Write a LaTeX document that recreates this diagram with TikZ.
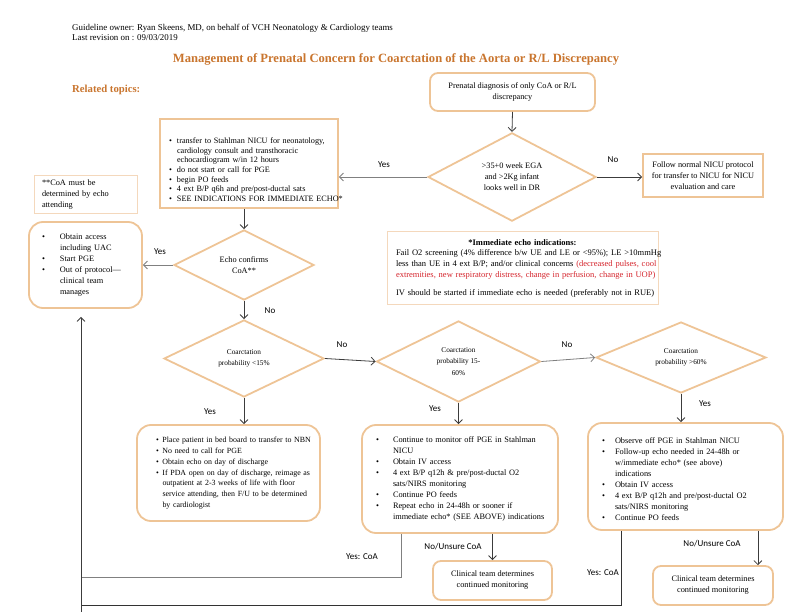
\documentclass[tikz,border=0pt]{standalone}
\usepackage{fontspec}
\setmainfont{Liberation Serif}
\newfontfamily\lblfont{Carlito}
\usetikzlibrary{arrows.meta,shapes.geometric}
\definecolor{ttl}{RGB}{201,117,46}
\definecolor{bord}{RGB}{238,196,150}
\definecolor{bordl}{RGB}{244,216,188}
\definecolor{redt}{RGB}{212,36,44}
\definecolor{arrc}{RGB}{60,60,60}
\newcommand{\bb}[1]{\makebox[#1][l]{\textbullet}}
\begin{document}
\begin{tikzpicture}[x=1pt,y=-1pt,
  txt/.style={font=\fontsize{8.3}{11}\selectfont, inner sep=0pt},
  rbox/.style={draw=bord, line width=1.8pt, rounded corners=#1, inner ysep=0pt},
  rbox/.default=12pt,
  sbox/.style={draw=bord, line width=1.8pt, inner ysep=0pt},
  lbox/.style={draw=bordl, line width=1pt, inner ysep=0pt},
  dia/.style={draw=bord, line width=1.8pt, diamond, inner sep=0pt, align=center, font=\fontsize{8.3}{11}\selectfont},
  cdia/.style={dia, font=\fontsize{7.3}{11.5}\selectfont},
  arr/.style={draw=arrc, line width=0.8pt, -{Straight Barb[length=4pt,width=8pt]}},
  ln/.style={draw=black!80, line width=0.8pt},
  lab/.style={font=\lblfont\fontsize{9}{10}\selectfont, inner sep=0pt},
]
\useasboundingbox (0,0) rectangle (792,612);

% header
\node[txt, anchor=west, font=\fontsize{8.9}{10}\selectfont] (hdr1) at (72,28) {Guideline owner: Ryan Skeens, MD, on behalf of VCH Neonatology \& Cardiology teams};
\node[txt, anchor=west, font=\fontsize{8.9}{10}\selectfont] (hdr2) at (72,38) {Last revision on : 09/03/2019};
\node[font=\bfseries\fontsize{12.6}{14}\selectfont, text=ttl, inner sep=0pt] (title) at (396,59) {Management of Prenatal Concern for Coarctation of the Aorta or R/L Discrepancy};
\node[font=\bfseries\fontsize{10.7}{12}\selectfont, text=ttl, anchor=west, inner sep=0pt] (rel) at (72,90) {Related topics:};

% top
\node[txt, rbox=8pt, minimum width=165pt, minimum height=38pt, align=center] (start) at (512.5,92) {Prenatal diagnosis of only CoA or R/L\\discrepancy};
\node[dia, minimum width=168pt, minimum height=88pt] (d1) at (512,177) {>35+0 week EGA\\and >2Kg infant\\looks well in DR};
\node[txt, sbox, minimum width=120pt, minimum height=43pt, align=center] (follow) at (703,175.5) {Follow normal NICU protocol\\for transfer to NICU for NICU\\evaluation and care};

\node[txt, sbox, minimum width=178pt, minimum height=89pt, text width=160pt, inner xsep=9pt, align=left, font=\fontsize{8.2}{9.7}\selectfont] (tr) at (249,163.5) {\noindent\begin{tabular}{@{}l@{}l@{}}\noalign{\vspace{14pt}}
\bb{8pt} & transfer to Stahlman NICU for neonatology,\\
 & cardiology consult and transthoracic\\
 & echocardiogram w/in 12 hours\\
\bb{8pt} & do not start or call for PGE\\
\bb{8pt} & begin PO feeds\\
\bb{8pt} & 4 ext B/P q6h and pre/post-ductal sats\\
\bb{8pt} & SEE INDICATIONS FOR IMMEDIATE ECHO*
\end{tabular}};

\node[txt, lbox, minimum width=103pt, minimum height=38pt, text width=87pt, inner xsep=8pt, align=left] (note) at (85.5,195) {**CoA must be\\determined by echo\\attending};

\node[txt, rbox=14pt, minimum width=113pt, minimum height=86pt, text width=87pt, inner xsep=13pt, align=left] (obtain) at (85.5,265) {\noindent\begin{tabular}{@{}l@{}l@{}}
\bb{18pt} & Obtain access\\
 & including UAC\\
\bb{18pt} & Start PGE\\
\bb{18pt} & Out of protocol---\\
 & clinical team\\
 & manages
\end{tabular}};

\node[dia, minimum width=140pt, minimum height=70pt] (d2) at (244,265) {Echo confirms\\CoA**};

\node[txt, lbox, minimum width=271pt, minimum height=72pt, text width=253pt, inner xsep=9pt, align=left, font=\fontsize{8.5}{10.8}\selectfont] (imm) at (522.5,268) {\noindent\begin{tabular}{@{}l@{}}
\makebox[253pt][c]{\textbf{*Immediate echo indications:}}\\
Fail O2 screening (4\% difference b/w UE and LE or <95\%); LE >10mmHg\\
less than UE in 4 ext B/P; and/or clinical concerns \textcolor{redt}{(decreased pulses, cool}\\
\textcolor{redt}{extremities, new respiratory distress, change in perfusion, change in UOP)}\\[7pt]
IV should be started if immediate echo is needed (preferably not in RUE)
\end{tabular}};

% probability diamonds
\node[cdia, minimum width=160pt, minimum height=77pt] (d3) at (244,358.5) {Coarctation\\probability <15\%};
\node[cdia, minimum width=164pt, minimum height=81pt] (d4) at (458.5,361.5) {Coarctation\\probability 15-\\60\%};
\node[cdia, minimum width=170pt, minimum height=71pt] (d5) at (681,357.5) {Coarctation\\probability >60\%};

% action boxes
\node[txt, rbox=14pt, minimum width=183pt, minimum height=96pt, text width=145pt, inner xsep=19pt, align=left, font=\fontsize{7.9}{10.8}\selectfont] (nbn) at (228.5,473) {\noindent\begin{tabular}{@{}l@{}l@{}}
\bb{6.5pt} & Place patient in bed board to transfer to NBN\\
\bb{6.5pt} & No need to call for PGE\\
\bb{6.5pt} & Obtain echo on day of discharge\\
\bb{6.5pt} & If PDA open on day of discharge, reimage as\\
 & outpatient at 2-3 weeks of life with floor\\
 & service attending, then F/U to be determined\\
 & by cardiologist
\end{tabular}};

\node[txt, rbox=14pt, minimum width=196pt, minimum height=108pt, text width=168pt, inner xsep=14pt, align=left] (mid) at (460,479) {\noindent\begin{tabular}{@{}l@{}l@{}}
\bb{17pt} & Continue to monitor off PGE in Stahlman\\
 & NICU\\
\bb{17pt} & Obtain IV access\\
\bb{17pt} & 4 ext B/P q12h \& pre/post-ductal O2\\
 & sats/NIRS monitoring\\
\bb{17pt} & Continue PO feeds\\
\bb{17pt} & Repeat echo in 24-48h or sooner if\\
 & immediate echo* (SEE ABOVE) indications
\end{tabular}};

\node[txt, rbox=14pt, minimum width=195pt, minimum height=107pt, text width=167pt, inner xsep=14pt, align=left] (high) at (685.5,476.5) {\noindent\begin{tabular}{@{}l@{}l@{}}\noalign{\vspace{6pt}}
\bb{13pt} & Observe off PGE in Stahlman NICU\\
\bb{13pt} & Follow-up echo needed in 24-48h or\\
 & w/immediate echo* (see above)\\
 & indications\\
\bb{13pt} & Obtain IV access\\
\bb{13pt} & 4 ext B/P q12h and pre/post-ductal O2\\
 & sats/NIRS monitoring\\
\bb{13pt} & Continue PO feeds
\end{tabular}};

\node[txt, rbox=8pt, minimum width=119pt, minimum height=39pt, align=center] (ct1) at (492.5,580.5) {Clinical team determines\\continued monitoring};
\node[txt, rbox=8pt, minimum width=120pt, minimum height=39pt, align=center] (ct2) at (713,585.5) {Clinical team determines\\continued monitoring};

% connectors
\draw[arr] (start.south) -- (d1.north);
\draw[arr] (d1.east) -- (d1.east -| follow.west);
\draw[arr, draw=gray] (d1.west) -- (d1.west -| tr.east);
\draw[arr] (d2.north |- tr.south) -- (d2.north);
\draw[arr, draw=gray] (d2.west) -- (d2.west -| obtain.east);
\draw[arr] (d2.south) -- (d3.north);
\draw[arr] (d3.east) -- (d4.west);
\draw[arr, draw=gray] (d4.east) -- (d5.west);
\draw[arr] (d3.south) -- (d3.south |- nbn.north);
\draw[arr] (d4.south) -- (d4.south |- mid.north);
\draw[arr] (d5.south) -- (d5.south |- high.north);
\draw[arr] (ct1.north |- mid.south) -- (ct1.north);
\coordinate (c7) at ([xshift=-16pt]ct2.north east);
\draw[arr] (c7 |- high.south) -- (c7);

\coordinate (j1) at (81,577);
\coordinate (j2) at (81,605);
\coordinate (jb) at (81,612);
\coordinate (m1) at ([xshift=40pt]mid.south west);
\coordinate (h1) at ([xshift=34pt]high.south west);
\draw[ln, draw=gray] (m1) |- (j1);
\draw[ln] (h1) |- (j2);
\draw[arr, shorten >=8pt] (jb) -- (jb |- obtain.south);

% labels
\node[lab] (yes1) at (384,165) {Yes};
\node[lab] (no1) at (613,160) {No};
\node[lab] (yes2) at (160,252) {Yes};
\node[lab] (no2) at (270,311) {No};
\node[lab] (no3) at (342,345) {No};
\node[lab] (no4) at (567,345) {No};
\node[lab] (yes3) at (210,412) {Yes};
\node[lab] (yes4) at (435,409) {Yes};
\node[lab] (yes5) at (705,404) {Yes};
\node[lab] (uns1) at (453,547) {No/Unsure CoA};
\node[lab] (uns2) at (712,544) {No/Unsure CoA};
\node[lab] (coa1) at (362,557) {Yes: CoA};
\node[lab] (coa2) at (603,573) {Yes: CoA};
\end{tikzpicture}
\end{document}
